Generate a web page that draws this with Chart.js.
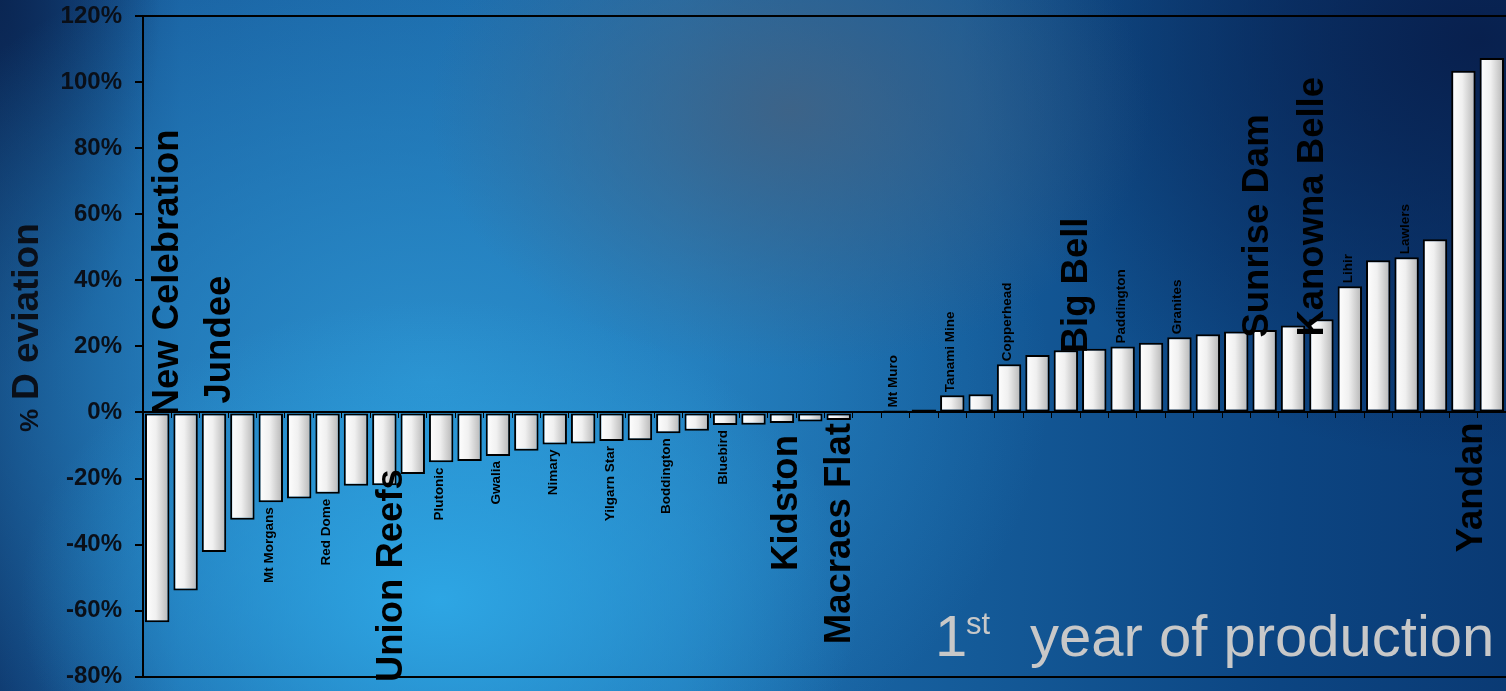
<!DOCTYPE html>
<html>
<head>
<meta charset="utf-8">
<script src="https://cdn.jsdelivr.net/npm/chart.js@4"></script>
<style>
  html, body { margin: 0; padding: 0; }
  body {
    width: 1506px;
    height: 691px;
    overflow: hidden;
    background:
      radial-gradient(ellipse 420px 300px at 440px 600px, rgba(46, 168, 230, 0.95), rgba(46, 168, 230, 0)),
      radial-gradient(ellipse 360px 260px at 790px 110px, rgba(64, 98, 132, 0.9), rgba(64, 98, 132, 0)),
      radial-gradient(ellipse 620px 460px at 430px 380px, rgba(42, 142, 204, 1), rgba(42, 142, 204, 0)),
      radial-gradient(ellipse 520px 420px at 1480px 40px, rgba(8, 32, 78, 1), rgba(8, 32, 78, 0)),
      radial-gradient(ellipse 160px 380px at 0px 0px, rgba(10, 36, 80, 0.9), rgba(10, 36, 80, 0)),
      linear-gradient(to right, #0f3a70 0%, #1a62a2 12%, #1d6eae 45%, #145a98 65%, #0c4582 85%, #0a3a74 100%);
  }
  canvas { display: block; }
</style>
</head>
<body>
<canvas id="chart" width="1506" height="691"></canvas>
<script>
// mine names, only the ones written on the slide, "" for the rest
const mineNames = [
  "New Celebration", "", "Jundee", "", "Mt Morgans", "", "Red Dome", "", "Union Reefs", "",
  "Plutonic", "", "Gwalia", "", "Nimary", "", "Yilgarn Star", "", "Boddington", "",
  "Bluebird", "", "Kidston", "", "Macraes Flat", "", "Mt Muro", "", "Tanami Mine", "",
  "Copperhead", "", "Big Bell", "", "Paddington", "", "Granites", "", "Sunrise Dam", "",
  "Kanowna Belle", "", "Lihir", "", "Lawlers", "", "Yandan", ""
];

// % deviation in the 1st year of production
const deviation = [
  -63.5, -53.9, -42.2, -32.5, -27.2, -26.0, -24.6, -22.2, -22.0, -18.6,
  -15.1, -14.7, -13.2, -11.6, -9.7, -9.4, -8.6, -8.4, -6.3, -5.5,
  -3.8, -3.7, -3.2, -2.7, -2.3, 0.1, 0.6, 0.9, 5.2, 5.5,
  14.6, 17.4, 18.8, 19.3, 20.0, 21.1, 22.8, 23.7, 24.5, 25.0,
  26.3, 28.2, 38.2, 46.1, 47.0, 52.4, 103.4, 107.3
];

const yTicks = [-80, -60, -40, -20, 0, 20, 40, 60, 80, 100, 120];

const FONT = '"Liberation Sans", Arial, sans-serif';

// how the big names sit next to their bars
const bigPlacement = {
  "New Celebration": { anchor: "zero-up", gap: 3, dx: 21 },
  "Jundee": { anchor: "zero-up", gap: -9, dx: 16 },
  "Union Reefs": { anchor: "end-down", gap: -16, dx: 18 },
  "Kidston": { anchor: "end-down", gap: 12, dx: 15 },
  "Macraes Flat": { anchor: "end-down", gap: 3, dx: 11 },
  "Big Bell": { anchor: "end-up", gap: 3, dx: 21 },
  "Sunrise Dam": { anchor: "end-up", gap: 6, dx: 32 },
  "Kanowna Belle": { anchor: "end-up", gap: 11, dx: 30 },
  "Yandan": { anchor: "zero-down", gap: 10, dx: 19 }
};

const mineLabels = {
  id: "mineLabels",
  afterDatasetsDraw(chart) {
    const { ctx, scales: { x, y } } = chart;
    const zero = y.getPixelForValue(0);
    ctx.save();
    ctx.fillStyle = "#000";
    mineNames.forEach((name, i) => {
      if (!name) return;
      const big = bigPlacement[name];
      const v = deviation[i];
      const end = y.getPixelForValue(v);
      ctx.font = big ? `bold 36.5px ${FONT}` : `bold 13.5px ${FONT}`;
      const w = ctx.measureText(name).width;
      let start;
      if (big) {
        if (big.anchor === "zero-up") start = zero + big.gap;
        else if (big.anchor === "zero-down") start = zero + big.gap + w;
        else if (big.anchor === "end-up") start = end + big.gap;
        else start = end + big.gap + w;
      } else {
        start = v < 0 ? end + 5 + w : end - 3;
      }
      ctx.save();
      ctx.translate(x.getPixelForValue(i) + (big ? big.dx : 2), start);
      ctx.rotate(-Math.PI / 2);
      ctx.textAlign = "left";
      ctx.textBaseline = "alphabetic";
      ctx.fillText(name, 0, 0);
      ctx.restore();
    });
    ctx.restore();
  },
  afterDraw(chart) {
    const ctx = chart.ctx;
    ctx.save();
    // y axis title, "%" written smaller than the rest
    ctx.translate(38, 432);
    ctx.rotate(-Math.PI / 2);
    ctx.fillStyle = "#0a0f18";
    ctx.textBaseline = "alphabetic";
    ctx.font = `bold 26px ${FONT}`;
    ctx.fillText("%", 0, 0);
    ctx.font = `bold 37px ${FONT}`;
    ctx.fillText("D eviation", 32, 0);
    ctx.restore();

    ctx.save();
    ctx.fillStyle = "#c8c8c8";
    ctx.textBaseline = "alphabetic";
    ctx.font = `58px ${FONT}`;
    ctx.fillText("1", 935, 656);
    ctx.font = `31px ${FONT}`;
    ctx.fillText("st", 966, 634);
    ctx.font = `58px ${FONT}`;
    ctx.fillText("year of production", 1030, 656);
    ctx.restore();
  }
};

Chart.defaults.font.family = FONT;

const cv = document.getElementById("chart");

new Chart(cv, {
  type: "bar",
  data: {
    labels: mineNames,
    datasets: [
      {
        data: deviation,
        borderColor: "#000",
        borderWidth: 2,
        borderSkipped: false,
        categoryPercentage: 1,
        barPercentage: 0.86,
        backgroundColor: (c) => {
          const chart = c.chart;
          const xs = chart.scales.x;
          if (!chart.chartArea || !xs) return "#eee";
          const cx = xs.getPixelForValue(c.dataIndex);
          const half = (xs.width / mineNames.length) * 0.43;
          const g = chart.ctx.createLinearGradient(cx - half, 0, cx + half, 0);
          g.addColorStop(0, "#ffffff");
          g.addColorStop(0.45, "#f0f0f0");
          g.addColorStop(1, "#b4b4b4");
          return g;
        },
      },
    ],
  },
  options: {
    responsive: false,
    animation: false,
    devicePixelRatio: 1,
    layout: { padding: { top: 16, bottom: 14, left: 0, right: 0 } },
    plugins: {
      legend: { display: false },
      tooltip: { enabled: false },
    },
    scales: {
      x: {
        position: { y: 0 },
        afterFit: (s) => { s.height = 0; },
        ticks: { display: false },
        grid: {
          offset: true,
          drawOnChartArea: false,
          drawTicks: true,
          tickLength: 5,
          tickColor: "#000",
          lineWidth: 1,
        },
        border: { display: true, color: "#000", width: 2 },
      },
      y: {
        min: -80,
        max: 120,
        afterFit: (s) => { s.width = 143; },
        afterBuildTicks: (s) => { s.ticks = yTicks.map((v) => ({ value: v })); },
        ticks: {
          padding: 13,
          color: "#0a0f18",
          font: { size: 24, weight: "bold", lineHeight: 0.1 },
          callback: (v) => v + "%",
        },
        grid: {
          color: (c) => (c.tick && (c.tick.value === 120 || c.tick.value === -80) ? "#000" : "rgba(0,0,0,0)"),
          lineWidth: 2,
          tickColor: "#000",
          tickLength: 8,
        },
        border: { display: true, color: "#000", width: 2 },
      },
    },
  },
  plugins: [mineLabels],
});
</script>
</body>
</html>
